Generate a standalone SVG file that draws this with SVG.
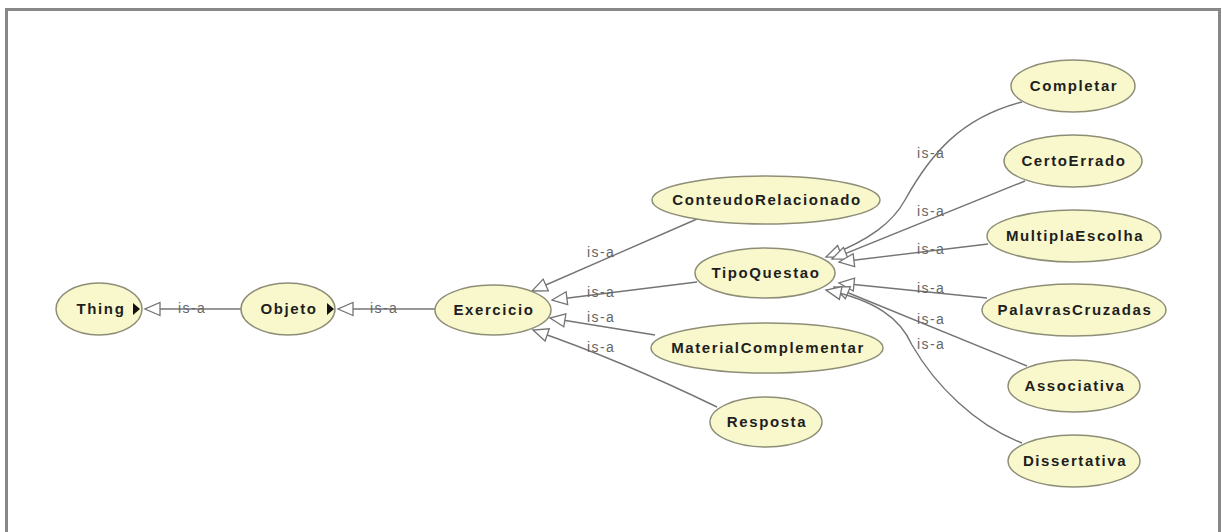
<svg xmlns="http://www.w3.org/2000/svg" width="1222" height="532" viewBox="0 0 1222 532">
<style>
.node ellipse{fill:#f8f8cc;stroke:#8e8e78;stroke-width:1.5}
.node text{font-family:"Liberation Sans",Arial,sans-serif;font-size:15px;font-weight:bold;letter-spacing:1.6px;fill:#1e1e1e;text-anchor:middle}
.edge{fill:none;stroke:#747474;stroke-width:1.4;marker-end:url(#arr)}
.lbl{font-family:"Liberation Sans",Arial,sans-serif;font-size:14px;letter-spacing:1.4px;fill:#666}
.tri{fill:#111}
</style>
<defs>
<marker id="arr" viewBox="0 0 16 14" markerWidth="16" markerHeight="14" refX="15" refY="6.5" orient="auto" markerUnits="userSpaceOnUse" overflow="visible">
<path d="M0,0 L15,6.5 L0,13 Z" fill="#fff" stroke="#747474" stroke-width="1.3"/>
</marker>
</defs>
<rect width="1222" height="532" fill="#fff"/>
<path d="M6.5,532 V9.5 H1219.5 V532" fill="none" stroke="#888" stroke-width="3"/>
<g id="connectors">
<path class="edge" d="M241,309 L145,309"/>
<path class="edge" d="M435,309 L338,309"/>
<path class="edge" d="M697,219 L532,291"/>
<path class="edge" d="M697,282 L552,300"/>
<path class="edge" d="M655,335 L550,318"/>
<path class="edge" d="M717,407 Q620,360 533,330"/>
<path class="edge" d="M1022,102 C960,118 930,155 905,200 C893,222 870,240 826,257"/>
<path class="edge" d="M1025,181 L832,259"/>
<path class="edge" d="M988,244 L839,262"/>
<path class="edge" d="M987,298 L839,283"/>
<path class="edge" d="M1027,366 L834,287"/>
<path class="edge" d="M1022,443 C975,425 935,385 912,345 C900,318 875,300 826,290"/>
<text class="lbl" x="178" y="313">is-a</text>
<text class="lbl" x="370" y="313">is-a</text>
<text class="lbl" x="587" y="257">is-a</text>
<text class="lbl" x="587" y="297">is-a</text>
<text class="lbl" x="587" y="322">is-a</text>
<text class="lbl" x="587" y="352">is-a</text>
<text class="lbl" x="917" y="158">is-a</text>
<text class="lbl" x="917" y="216">is-a</text>
<text class="lbl" x="917" y="254">is-a</text>
<text class="lbl" x="917" y="293">is-a</text>
<text class="lbl" x="917" y="324">is-a</text>
<text class="lbl" x="917" y="349">is-a</text>
</g>
<g id="Thing" class="node"><ellipse cx="99" cy="309" rx="43" ry="26"/><text x="101" y="314">Thing</text><polygon class="tri" points="133,303 140,309 133,315"/></g>
<g id="Objeto" class="node"><ellipse cx="288" cy="309" rx="47" ry="26"/><text x="289" y="314">Objeto</text><polygon class="tri" points="327,303 334,309 327,315"/></g>
<g id="Exercicio" class="node"><ellipse cx="493" cy="310" rx="58" ry="25"/><text x="494" y="315">Exercicio</text></g>
<g id="ConteudoRelacionado" class="node"><ellipse cx="766" cy="200" rx="114" ry="24"/><text x="767" y="205">ConteudoRelacionado</text></g>
<g id="TipoQuestao" class="node"><ellipse cx="765" cy="273" rx="70" ry="25"/><text x="766" y="278">TipoQuestao</text></g>
<g id="MaterialComplementar" class="node"><ellipse cx="767" cy="348" rx="116" ry="25"/><text x="768" y="353">MaterialComplementar</text></g>
<g id="Resposta" class="node"><ellipse cx="766" cy="422" rx="56" ry="25"/><text x="767" y="427">Resposta</text></g>
<g id="Completar" class="node"><ellipse cx="1073" cy="86" rx="62" ry="26"/><text x="1074" y="91">Completar</text></g>
<g id="CertoErrado" class="node"><ellipse cx="1073" cy="161" rx="69" ry="26"/><text x="1074" y="166">CertoErrado</text></g>
<g id="MultiplaEscolha" class="node"><ellipse cx="1074" cy="236" rx="87" ry="26"/><text x="1075" y="241">MultiplaEscolha</text></g>
<g id="PalavrasCruzadas" class="node"><ellipse cx="1074" cy="310" rx="92" ry="26"/><text x="1075" y="315">PalavrasCruzadas</text></g>
<g id="Associativa" class="node"><ellipse cx="1074" cy="386" rx="66" ry="26"/><text x="1075" y="391">Associativa</text></g>
<g id="Dissertativa" class="node"><ellipse cx="1074" cy="461" rx="66" ry="26"/><text x="1075" y="466">Dissertativa</text></g>
</svg>
